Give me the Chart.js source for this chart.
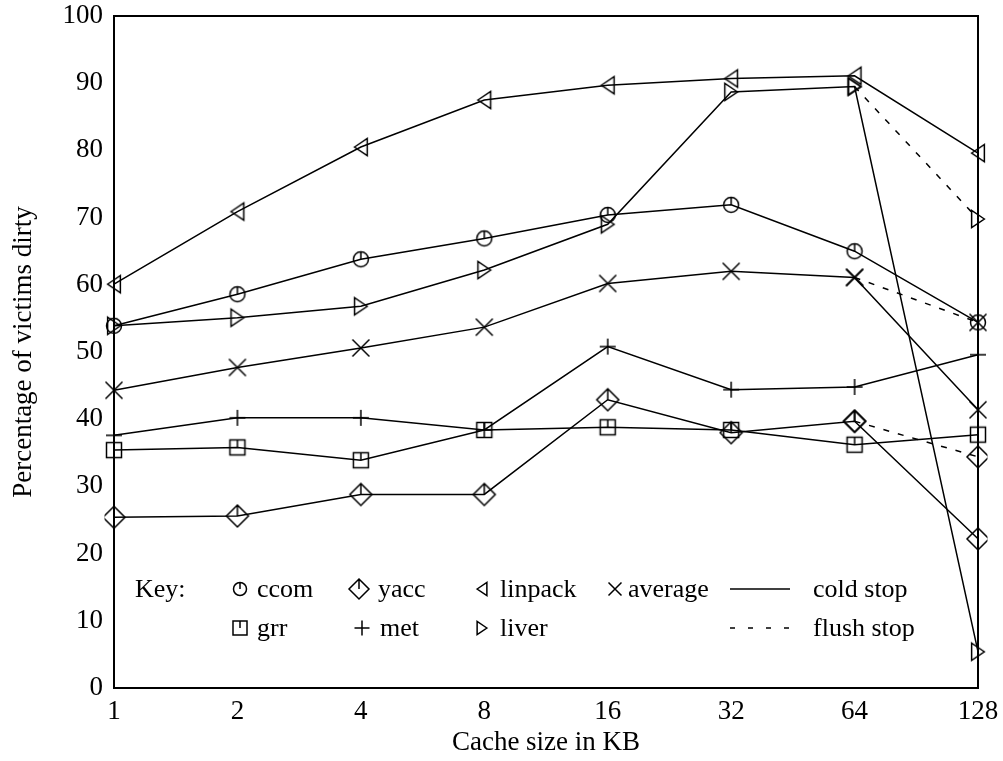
<!DOCTYPE html>
<html>
<head>
<meta charset="utf-8">
<script src="https://cdn.jsdelivr.net/npm/chart.js"></script>
<style>
  body { margin: 0; background: #fff; }
  #wrap { width: 1003px; height: 761px; }
</style>
</head>
<body>
<div id="wrap"><canvas id="myChart"></canvas></div>
<script>
var sizes = ["1", "2", "4", "8", "16", "32", "64", "128"];
var yTicks = [0, 10, 20, 30, 40, 50, 60, 70, 80, 90, 100];

// cold stop values
var ccom    = [53.9, 58.6, 63.8, 66.9, 70.4, 71.9, 65.0, 54.4];
var grr     = [35.4, 35.8, 33.9, 38.4, 38.8, 38.4, 36.2, 37.7];
var yacc    = [25.4, 25.6, 28.8, 28.8, 42.9, 38.0, 39.7, 22.2];
var met     = [37.6, 40.2, 40.2, 38.4, 50.8, 44.4, 44.8, 49.6];
var linpack = [60.1, 70.9, 80.5, 87.5, 89.7, 90.7, 91.1, 79.6];
var liver   = [53.9, 55.1, 56.8, 62.2, 69.0, 88.7, 89.5, 5.4];
var average = [44.3, 47.7, 50.6, 53.7, 60.2, 62.0, 61.1, 41.4];

// flush stop values at 128 KB (where they differ from cold stop)
var yaccFlush = 34.4;
var liverFlush = 69.8;
var averageFlush = 54.4;

var serif = "'Liberation Serif', 'DejaVu Serif', serif";

//draws one marker shape centred at 0,0
function drawShape(ctx, kind, s) {
  ctx.beginPath();
  if (kind == "circle") {
    ctx.arc(0, 0, s, 0, Math.PI * 2);
    ctx.moveTo(0, -s); ctx.lineTo(0, 0);
  } else if (kind == "square") {
    ctx.rect(-s, -s, 2 * s, 2 * s);
    ctx.moveTo(0, -s); ctx.lineTo(0, 0);
  } else if (kind == "diamond") {
    ctx.moveTo(0, -s); ctx.lineTo(s, 0); ctx.lineTo(0, s); ctx.lineTo(-s, 0); ctx.closePath();
    ctx.moveTo(0, -s); ctx.lineTo(0, 0);
  } else if (kind == "left") {
    ctx.moveTo(-s * 0.75, 0); ctx.lineTo(s * 0.75, -s); ctx.lineTo(s * 0.75, s); ctx.closePath();
  } else if (kind == "right") {
    ctx.moveTo(s * 0.75, 0); ctx.lineTo(-s * 0.75, -s); ctx.lineTo(-s * 0.75, s); ctx.closePath();
  } else if (kind == "cross") {
    ctx.moveTo(-s, -s); ctx.lineTo(s, s);
    ctx.moveTo(-s, s); ctx.lineTo(s, -s);
  } else if (kind == "plus") {
    ctx.moveTo(-s, 0); ctx.lineTo(s, 0);
    ctx.moveTo(0, -s); ctx.lineTo(0, s);
  }
  ctx.stroke();
}

//builds a small canvas used as pointStyle
function marker(kind, s) {
  var c = document.createElement("canvas");
  var n = Math.ceil(s) * 2 + 6;
  c.width = n; c.height = n;
  var ctx = c.getContext("2d");
  ctx.translate(n / 2, n / 2);
  ctx.strokeStyle = "#000";
  ctx.lineWidth = 1.5;
  drawShape(ctx, kind, s);
  return c;
}

var shapes = {
  ccom: ["circle", 7.5],
  grr: ["square", 7.5],
  yacc: ["diamond", 11],
  met: ["plus", 8],
  linpack: ["left", 8.5],
  liver: ["right", 8.5],
  average: ["cross", 8.5]
};

function coldSet(name, values) {
  return {
    label: name,
    data: values,
    borderColor: "#000",
    borderWidth: 1.5,
    pointStyle: marker(shapes[name][0], shapes[name][1]),
    pointRadius: 8,
    fill: false
  };
}

//dashed segment from 64 KB to the flush value at 128 KB
function flushSet(name, values, flushValue) {
  var d = values.map(function (v, i) {
    if (i == 6) return v;
    if (i == 7) return flushValue;
    return null;
  });
  var ds = coldSet(name, d);
  ds.label = name + " flush";
  ds.borderDash = [6, 9];
  ds.spanGaps = false;
  return ds;
}

//frame and key box
var keyPlugin = {
  id: "keyPlugin",
  afterDraw: function (chart) {
    var ctx = chart.ctx;
    var a = chart.chartArea;
    ctx.save();
    ctx.strokeStyle = "#000";
    ctx.lineWidth = 2;
    ctx.strokeRect(a.left, a.top, a.right - a.left, a.bottom - a.top);

    ctx.fillStyle = "#000";
    ctx.font = "26px " + serif;
    ctx.textBaseline = "alphabetic";
    ctx.fillText("Key:", 135, 597);

    var items = [
      ["ccom", 240, 589, 257, 6.5],
      ["yacc", 359, 589, 378, 10],
      ["linpack", 482, 589, 500, 6.5],
      ["average", 615, 589, 628, 6.5],
      ["grr", 240, 628, 257, 7],
      ["met", 362, 628, 380, 7.5],
      ["liver", 482, 628, 500, 6.5]
    ];
    ctx.lineWidth = 1.5;
    items.forEach(function (it) {
      ctx.save();
      ctx.translate(it[1], it[2]);
      drawShape(ctx, shapes[it[0]][0], it[4]);
      ctx.restore();
      ctx.fillText(it[0], it[3], it[2] + 8);
    });

    ctx.beginPath();
    ctx.moveTo(730, 589); ctx.lineTo(790, 589);
    ctx.stroke();
    ctx.fillText("cold stop", 813, 597);

    ctx.setLineDash([5, 13]);
    ctx.beginPath();
    ctx.moveTo(730, 628); ctx.lineTo(793, 628);
    ctx.stroke();
    ctx.setLineDash([]);
    ctx.fillText("flush stop", 813, 636);
    ctx.restore();
  }
};

new Chart("myChart", {
  type: "line",
  data: {
    labels: sizes,
    datasets: [
      coldSet("ccom", ccom),
      coldSet("grr", grr),
      coldSet("yacc", yacc),
      flushSet("yacc", yacc, yaccFlush),
      coldSet("met", met),
      coldSet("linpack", linpack),
      coldSet("liver", liver),
      flushSet("liver", liver, liverFlush),
      coldSet("average", average),
      flushSet("average", average, averageFlush)
    ]
  },
  options: {
    responsive: true,
    maintainAspectRatio: false,
    animation: false,
    layout: { padding: { top: 16, right: 25, left: 0, bottom: 0 } },
    plugins: {
      legend: { display: false },
      tooltip: { enabled: false }
    },
    elements: { line: { tension: 0 } },
    scales: {
      x: {
        type: "category",
        offset: false,
        grid: { display: false, drawTicks: false },
        border: { display: false },
        ticks: { color: "#000", font: { family: serif, size: 27 }, padding: 8, maxRotation: 0, autoSkip: false },
        title: { display: true, text: "Cache size in KB", color: "#000", font: { family: serif, size: 27 }, padding: { top: 0, bottom: 2 } },
        afterFit: function (scale) {
          scale.height = 73;
          scale.paddingLeft = 0;
          scale.paddingRight = 0;
        }
      },
      y: {
        min: 0,
        max: 100,
        afterBuildTicks: function (scale) {
          scale.ticks = yTicks.map(function (v) { return { value: v }; });
        },
        grid: { display: false, drawTicks: false },
        border: { display: false },
        ticks: { color: "#000", font: { family: serif, size: 27 }, padding: 11 },
        title: { display: true, text: "Percentage of victims dirty", color: "#000", font: { family: serif, size: 27 }, padding: { top: 8, bottom: 0 } },
        afterFit: function (scale) {
          scale.width = 114;
          scale.paddingTop = 0;
          scale.paddingBottom = 0;
        }
      }
    }
  },
  plugins: [keyPlugin]
});
</script>
</body>
</html>
